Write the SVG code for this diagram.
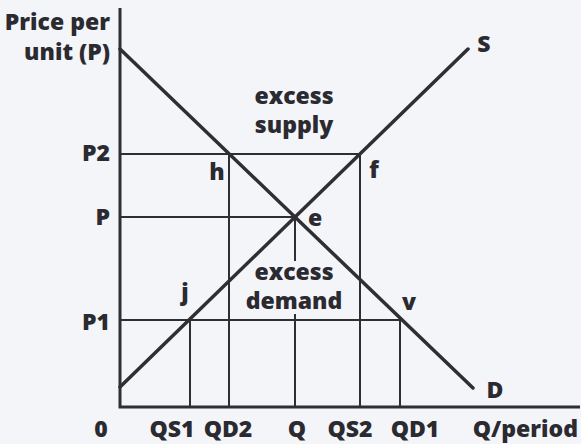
<svg xmlns="http://www.w3.org/2000/svg" width="581" height="444" viewBox="0 0 581 444">
<style>
.t{font-family:"Open Sans","Liberation Sans",sans-serif;font-weight:800;font-size:23px;fill:#2a2a30}
.m{text-anchor:middle}
.e{text-anchor:end}
.ax{stroke:#2e2e33;stroke-width:3;fill:none}
.cv{stroke:#2e2e33;stroke-width:3.5;fill:none;stroke-linecap:round}
.g{stroke:#2e2e33;stroke-width:2;fill:none}
</style>
<rect width="581" height="444" fill="#f4f5f9"/>
<g id="connectors">
<path class="g" d="M120 154H360M120 217H295M120 320H400"/>
<path class="g" d="M229 154V407M360 154V407M190 320V407M400 320V407M295 217V261M295 314V407"/>
<path class="ax" d="M120 8V407H580"/>
<line id="demand-curve" class="cv" x1="120" y1="49" x2="473" y2="388"/>
<line id="supply-curve" class="cv" x1="120" y1="387" x2="468" y2="49"/>
</g>
<g id="y-axis-label"><text class="t e" x="110" y="30">Price per</text><text class="t e" x="110" y="60">unit (P)</text></g>
<g id="p2"><text class="t e" x="110" y="161">P2</text></g>
<g id="p"><text class="t e" x="110" y="225">P</text></g>
<g id="p1"><text class="t e" x="110" y="330">P1</text></g>
<g id="excess-supply"><text class="t m" x="294" y="104">excess</text><text class="t m" x="294" y="133">supply</text></g>
<g id="excess-demand"><text class="t m" x="294" y="280">excess</text><text class="t m" x="294" y="309">demand</text></g>
<g id="h"><text class="t m" x="217" y="180">h</text></g>
<g id="f"><text class="t m" x="374" y="178">f</text></g>
<g id="e"><text class="t m" x="315" y="226">e</text></g>
<g id="j"><text class="t m" x="185" y="300">j</text></g>
<g id="v"><text class="t m" x="409" y="310">v</text></g>
<g id="S"><text class="t m" x="484" y="52">S</text></g>
<g id="D"><text class="t m" x="495" y="398">D</text></g>
<g id="x-labels">
<text class="t m" x="101" y="437">0</text>
<text class="t m" x="172" y="437">QS1</text>
<text class="t m" x="228" y="437">QD2</text>
<text class="t m" x="297" y="437">Q</text>
<text class="t m" x="350" y="437">QS2</text>
<text class="t m" x="415" y="437">QD1</text>
<text class="t e" x="578" y="437">Q/period</text>
</g>
</svg>
